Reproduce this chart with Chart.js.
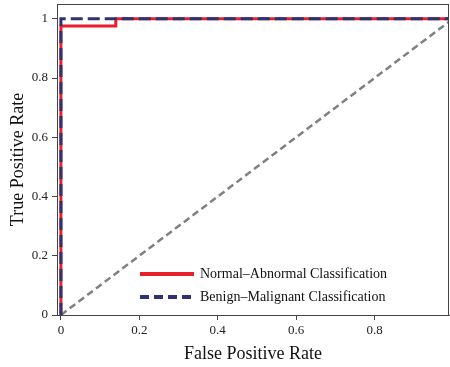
<!DOCTYPE html>
<html>
<head>
<meta charset="utf-8">
<script src="https://cdn.jsdelivr.net/npm/chart.js@4.4.0/dist/chart.umd.min.js"></script>
<style>
  html, body { margin: 0; padding: 0; background: #fff; }
  #wrap { width: 450px; height: 367px; }
</style>
</head>
<body>
<div id="wrap"><canvas id="roc"></canvas></div>
<script>
// ROC curve points (false positive rate, true positive rate)
const normalFpr = [0, 0, 0.14, 0.14, 1];
const normalTpr = [0, 0.976, 0.976, 1, 1];
const benignFpr = [0, 0, 1];
const benignTpr = [0, 1, 1];
const chanceFpr = [0, 1];
const chanceTpr = [0, 1];

const xTicks = [0, 0.2, 0.4, 0.6, 0.8];
const yTicks = [0, 0.2, 0.4, 0.6, 0.8, 1];

const seriesLabels = ['Normal–Abnormal Classification', 'Benign–Malignant Classification'];

const toPoints = (xs, ys) => xs.map((x, i) => ({ x: x, y: ys[i] }));

const serif = "'Liberation Serif', 'Times New Roman', serif";
const frameColor = '#444444';

// frame around the plot + legend in lower right
const frameAndLegend = {
    id: 'frameAndLegend',
    afterDatasetsDraw(chart) {
        const { ctx, chartArea } = chart;
        ctx.save();
        ctx.strokeStyle = frameColor;
        ctx.lineWidth = 1;
        ctx.strokeRect(chartArea.left + 0.5, chartArea.top + 0.5,
            chartArea.right - chartArea.left - 1, chartArea.bottom - chartArea.top);

        const rows = [1, 2];
        rows.forEach((dsIndex, i) => {
            const ds = chart.data.datasets[dsIndex];
            const y = 274 + i * 23;
            ctx.beginPath();
            ctx.strokeStyle = ds.borderColor;
            ctx.lineWidth = 4;
            ctx.setLineDash(i === 1 ? [9, 5] : []);
            ctx.moveTo(140, y);
            ctx.lineTo(194, y);
            ctx.stroke();
            ctx.setLineDash([]);
            ctx.fillStyle = '#111';
            ctx.font = '14px ' + serif;
            ctx.textBaseline = 'middle';
            ctx.fillText(ds.label, 200, y);
        });
        ctx.restore();
    }
};

new Chart(document.getElementById('roc'), {
    type: 'line',
    data: {
        datasets: [
            {
                label: 'Chance',
                data: toPoints(chanceFpr, chanceTpr),
                borderColor: '#808080',
                borderWidth: 2.5,
                borderDash: [7, 4],
                pointRadius: 0,
                fill: false,
                order: 3
            },
            {
                label: seriesLabels[0],
                data: toPoints(normalFpr, normalTpr),
                borderColor: '#e8202a',
                borderWidth: 3,
                pointRadius: 0,
                fill: false,
                order: 2
            },
            {
                label: seriesLabels[1],
                data: toPoints(benignFpr, benignTpr),
                borderColor: '#2e3173',
                borderWidth: 3,
                borderDash: [12, 5],
                pointRadius: 0,
                fill: false,
                order: 1
            }
        ]
    },
    options: {
        responsive: true,
        maintainAspectRatio: false,
        animation: false,
        layout: { autoPadding: false, padding: { top: 4, right: 1, left: 0, bottom: 0 } },
        plugins: {
            legend: { display: false },
            tooltip: { enabled: false }
        },
        scales: {
            x: {
                type: 'linear',
                min: -0.01,
                max: 0.99,
                afterBuildTicks: scale => { scale.ticks = xTicks.map(v => ({ value: v })); },
                afterFit: scale => {
                    scale.height = 52;
                    scale.paddingLeft = 0;
                    scale.paddingRight = 0;
                },
                grid: { drawOnChartArea: false, tickLength: 5, color: frameColor },
                border: { color: frameColor },
                ticks: {
                    color: '#222',
                    font: { family: serif, size: 13 },
                    padding: 3,
                    maxRotation: 0,
                    callback: v => String(v)
                },
                title: {
                    display: true,
                    text: 'False Positive Rate',
                    color: '#111',
                    font: { family: serif, size: 18 },
                    padding: { top: 4, bottom: 2 }
                }
            },
            y: {
                type: 'linear',
                min: 0,
                max: 1.05,
                afterBuildTicks: scale => { scale.ticks = yTicks.map(v => ({ value: v })); },
                afterFit: scale => {
                    scale.width = 57;
                    scale.paddingTop = 0;
                    scale.paddingBottom = 0;
                },
                grid: { drawOnChartArea: false, tickLength: 5, color: frameColor },
                border: { color: frameColor },
                ticks: {
                    color: '#222',
                    font: { family: serif, size: 13 },
                    padding: 4,
                    callback: v => String(v)
                },
                title: {
                    display: true,
                    text: 'True Positive Rate',
                    color: '#111',
                    font: { family: serif, size: 18 },
                    padding: { top: 7, bottom: 4 }
                }
            }
        }
    },
    plugins: [frameAndLegend]
});
</script>
</body>
</html>
